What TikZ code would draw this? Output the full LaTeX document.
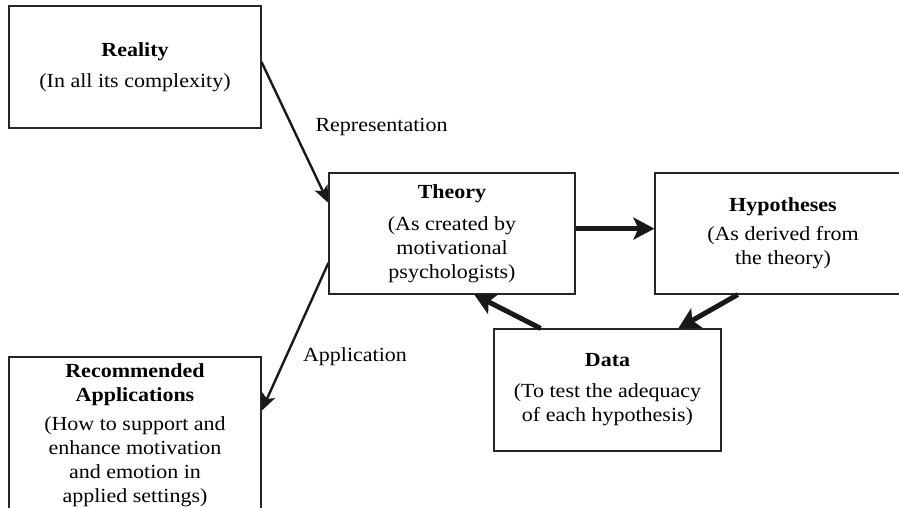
\documentclass[tikz,border=0pt]{standalone}
\usepackage{fontspec}
\setmainfont{Liberation Serif}[FakeStretch=1.1]
\usetikzlibrary{arrows.meta,calc}
\tikzset{
  box/.style={draw=black!85, line width=1.2pt, rectangle, inner sep=0pt, align=center,
    font=\fontsize{20}{24}\selectfont},
  lbl/.style={font=\fontsize{20}{24}\selectfont, inner sep=0pt},
  thinarrow/.style={draw=black!90, line width=2.4pt, -{Stealth[length=17pt,width=14pt,inset=4pt]}},
  thickarrow/.style={draw=black!90, line width=5pt, -{Stealth[length=21pt,width=22pt,inset=5pt]}}
}
\newcommand{\ttl}[1]{\textbf{#1}}
\begin{document}
\begin{tikzpicture}[x=1pt,y=-1pt]
\useasboundingbox (0,0) rectangle (899,507);
\clip (0,0) rectangle (899,507);
\node[box, minimum width=252pt, minimum height=122pt] (reality) at (135,67)
  {\ttl{Reality}\\[7pt](In all its complexity)};
\node[box, minimum width=246pt, minimum height=121pt] (theory) at (452,233.5)
  {\ttl{Theory}\\[8pt](As created by\\motivational\\psychologists)};
\node[box, minimum width=256pt, minimum height=121pt] (hyp) at (783,233.5)
  {\ttl{Hypotheses}\\[5pt](As derived from\\the theory)};
\node[box, minimum width=227pt, minimum height=122pt] (data) at (607.5,390)
  {\ttl{Data}\\[7pt](To test the adequacy\\of each hypothesis)};
\node[box, minimum width=252pt, minimum height=156pt] (rec) at (135,435)
  {\ttl{Recommended}\\\ttl{Applications}\\[5pt](How to support and\\enhance motivation\\and emotion in\\applied settings)};
\node[lbl] (rep) at (381.5,127) {Representation};
\node[lbl] (app) at (355,357) {Application};
\draw[thinarrow] ($(reality.north east)!0.46!(reality.south east)$) -- ($(theory.north west)!0.25!(theory.south west)$);
\draw[thinarrow] ($(theory.north west)!0.74!(theory.south west)$) -- ($(rec.north east)!0.346!(rec.south east)$);
\draw[thickarrow] ($(theory.north east)!0.46!(theory.south east)$) -- ($(hyp.north west)!0.46!(hyp.south west)$);
\draw[thickarrow] ($(hyp.south west)!0.324!(hyp.south east)$) -- ($(data.north west)!0.81!(data.north east)$);
\draw[thickarrow] ($(data.north west)!0.207!(data.north east)$) -- ($(theory.south west)!0.59!(theory.south east)$);
\end{tikzpicture}
\end{document}
